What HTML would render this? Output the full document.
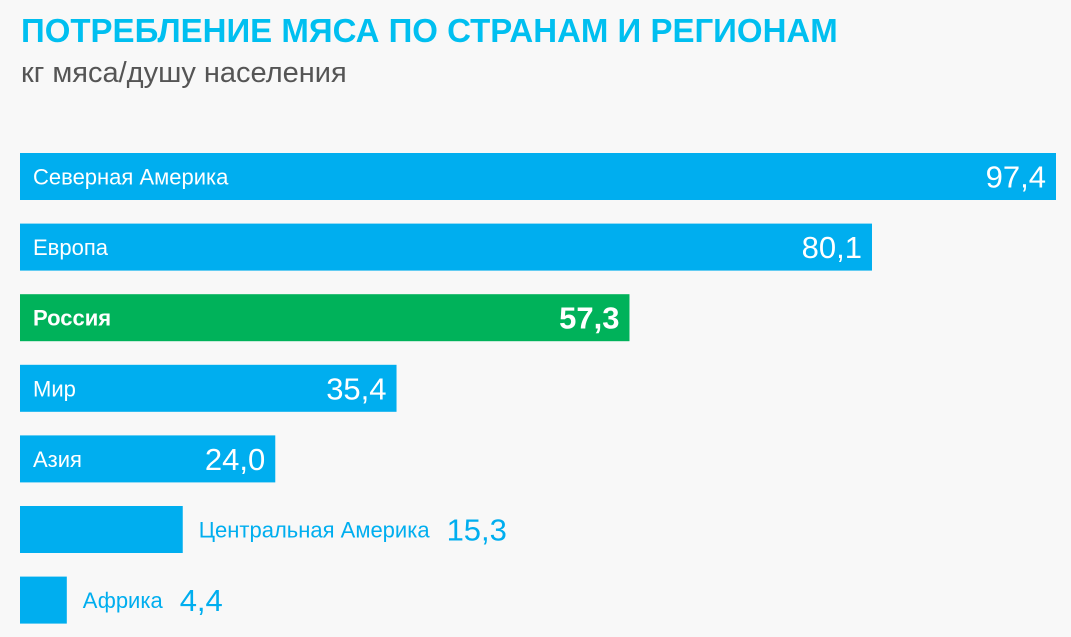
<!DOCTYPE html>
<html><head><meta charset="utf-8">
<style>
html,body{margin:0;padding:0;background:#f8f8f8;}
svg{display:block;font-family:"Liberation Sans",sans-serif;}
</style></head>
<body>
<svg id="chart" width="1071" height="637" viewBox="0 0 1071 637">
  <rect width="1071" height="637" fill="#f8f8f8"/>
  <text x="21" y="42" font-size="33" font-weight="bold" fill="#00bff0">ПОТРЕБЛЕНИЕ МЯСА ПО СТРАНАМ И РЕГИОНАМ</text>
  <text x="21" y="82" font-size="29" fill="#555555">кг мяса/душу населения</text>
  <g id="bars"></g>
</svg>
<script>
const categories = ["Северная Америка","Европа","Россия","Мир","Азия","Центральная Америка","Африка"];
const values = [97.4, 80.1, 57.3, 35.4, 24.0, 15.3, 4.4];
const valueLabels = ["97,4","80,1","57,3","35,4","24,0","15,3","4,4"];
const highlight = [false,false,true,false,false,false,false];

const x0 = 20, xMaxPx = 1036, vMax = 97.4;
const xScale = v => v / vMax * xMaxPx;
const yTop = 153, step = 70.6, barH = 47;
const yScale = i => yTop + i * step;
const NS = "http://www.w3.org/2000/svg";
const g = document.getElementById("bars");
const blue = "#00aeef", green = "#00b25a";

function mk(tag, attrs, text){
  const e = document.createElementNS(NS, tag);
  for (const k in attrs) e.setAttribute(k, attrs[k]);
  if (text !== undefined) e.textContent = text;
  return e;
}
function measure(str, size, bold){
  const t = mk("text", {"font-size": size, "font-weight": bold ? "bold" : "normal"}, str);
  g.appendChild(t); const w = t.getComputedTextLength(); g.removeChild(t); return w;
}

categories.forEach((cat, i) => {
  const w = xScale(values[i]);
  const y = yScale(i);
  const bold = highlight[i];
  const r = mk("rect", {x: x0, y: y, width: w, height: barH, fill: bold ? green : blue});
  
  
  g.appendChild(r);
  const mid = y + barH / 2;
  const labW = measure(cat, 22, bold), valW = measure(valueLabels[i], 31, bold);
  const inside = labW + valW + 40 < w;
  let lab, val;
  if (inside) {
    lab = mk("text", {x: x0 + 13, y: mid + 8, "font-size": 22, fill: "#fff", "font-weight": bold ? "bold" : "normal"}, cat);
    val = mk("text", {x: x0 + w - 10, y: mid + 11, "font-size": 31, fill: "#fff", "text-anchor": "end", "font-weight": bold ? "bold" : "normal"}, valueLabels[i]);
  } else {
    const lx = x0 + w + 16;
    lab = mk("text", {x: lx, y: mid + 8, "font-size": 22, fill: blue}, cat);
    val = mk("text", {x: lx + labW + 17, y: mid + 11, "font-size": 31, fill: blue}, valueLabels[i]);
  }
  
  
  
  
  g.appendChild(lab); g.appendChild(val);
});
</script>
</body></html>
